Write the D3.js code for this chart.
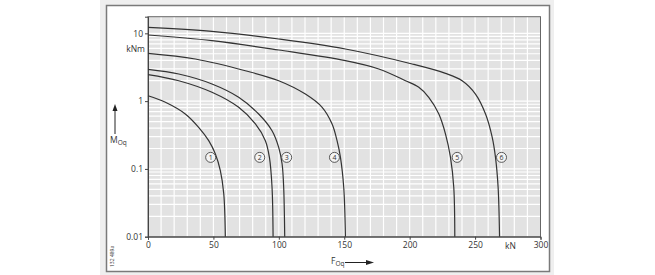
<!DOCTYPE html>
<html>
<head>
<meta charset="utf-8">
<script src="https://cdn.jsdelivr.net/npm/d3@7"></script>
<style>
  body { margin: 0; background: #fff; }
  svg { display: block; }
  text { font-family: "Open Sans", "DejaVu Sans", sans-serif; fill: #333; }
</style>
</head>
<body>
<svg id="chart" width="655" height="275"></svg>
<script>
// curves: [F in kN, M in kNm]
const curve1 = [[0, 1.2], [13.3, 0.96], [28.5, 0.645], [38.7, 0.41], [46.4, 0.261], [51.5, 0.166], [55.3, 0.094], [57.9, 0.043], [59.1, 0.01]];
const curve2 = [[0, 2.46], [23.5, 2.0], [48.9, 1.35], [69.3, 0.81], [82.1, 0.46], [89.7, 0.261], [92.8, 0.148], [94.8, 0.0535], [95.6, 0.01]];
const curve3 = [[0, 2.94], [23.5, 2.51], [48.9, 1.79], [69.3, 1.14], [84.6, 0.645], [94.8, 0.366], [99.9, 0.208], [102.5, 0.118], [103.7, 0.0535], [104.5, 0.01]];
const curve4 = [[0, 5.07], [36.2, 4.18], [74.4, 2.81], [99.9, 2.0], [120.3, 1.27], [133.1, 0.81], [140.7, 0.46], [144.5, 0.261], [147.1, 0.148], [149.6, 0.0535], [150.9, 0.01]];
const curve5 = [[0, 9.45], [48.9, 7.8], [99.9, 5.68], [150.9, 3.95], [176.4, 2.98], [196.8, 2.0], [207.0, 1.6], [214.6, 1.14], [222.3, 0.645], [227.4, 0.327], [231.2, 0.148], [233.7, 0.0535], [234.5, 0.01]];
const curve6 = [[0, 12.26], [48.9, 10.7], [99.9, 8.25], [150.9, 5.87], [201.9, 3.53], [227.4, 2.57], [240.1, 2.0], [250.3, 1.27], [258.0, 0.645], [263.1, 0.292], [265.6, 0.148], [267.6, 0.0535], [268.7, 0.01]];
const curves = [curve1, curve2, curve3, curve4, curve5, curve6];

const curveLabels = ["1", "2", "3", "4", "5", "6"];
const labelF = [47.9, 85.4, 106, 142.5, 236.3, 270.2];
const labelM = 0.148;

const xTicks = [0, 50, 100, 150, 200, 250, 300];
const yTicks = [0.01, 0.1, 1, 10];
const yTickLabels = ["0.01", "0.1", "1", "10"];

const svg = d3.select("#chart");

// panel frame
svg.append("rect").attr("x", 100).attr("y", 0).attr("width", 454).attr("height", 275).attr("fill", "#efefef");
svg.append("rect").attr("x", 106.5).attr("y", 5.5).attr("width", 443).attr("height", 266)
  .attr("fill", "#fff").attr("stroke", "#7a7a7a").attr("stroke-width", 1.5);

const pLeft = 148, pRight = 540.5, pTop = 16.7, pBottom = 236.7;

const x = d3.scaleLinear().domain([0, 300]).range([pLeft, pRight]);
const y = d3.scaleLog().domain([0.01, 17.6]).range([pBottom, pTop]);

svg.append("rect").attr("x", pLeft).attr("y", pTop).attr("width", pRight - pLeft).attr("height", pBottom - pTop)
  .attr("fill", "#e2e2e2");

// grid
const grid = svg.append("g").attr("stroke", "#fff").attr("stroke-width", 1.2);
grid.selectAll("line.v").data(d3.range(10, 300, 10)).join("line")
  .attr("x1", d => x(d)).attr("x2", d => x(d)).attr("y1", pTop).attr("y2", pBottom);
const minor = y.ticks().filter(d => d > 0.01 && d < 17.6);
grid.selectAll("line.h").data(minor).join("line")
  .attr("x1", pLeft).attr("x2", pRight).attr("y1", d => y(d)).attr("y2", d => y(d));

// frame
svg.append("rect").attr("x", pLeft).attr("y", pTop).attr("width", pRight - pLeft).attr("height", pBottom - pTop)
  .attr("fill", "none").attr("stroke", "#666").attr("stroke-width", 1);

// axes
const xAxis = svg.append("g").attr("transform", `translate(0,${pBottom})`)
  .call(d3.axisBottom(x).tickValues(xTicks).tickSize(3).tickPadding(2).tickFormat(d3.format("d")));
const yAxis = svg.append("g").attr("transform", `translate(${pLeft},0)`)
  .call(d3.axisLeft(y).tickValues(yTicks).tickSize(3).tickPadding(2).tickFormat((d, i) => yTickLabels[i]));
[xAxis, yAxis].forEach(a => {
  a.select(".domain").attr("stroke", "#444");
  a.selectAll(".tick line").attr("stroke", "#444");
  a.selectAll("text").attr("font-size", 8.5).attr("fill", "#333")
    .style("font-family", '"Open Sans", "DejaVu Sans", sans-serif');
});

// curves
const line = d3.line().x(d => x(d[0])).y(d => y(d[1])).curve(d3.curveCatmullRom.alpha(0.5));
svg.append("g").selectAll("path").data(curves).join("path")
  .attr("d", line).attr("fill", "none").attr("stroke", "#333").attr("stroke-width", 1.2);

// curve numbers
const lab = svg.append("g").selectAll("g").data(curveLabels).join("g")
  .attr("transform", (d, i) => `translate(${x(labelF[i])},${y(labelM)})`);
lab.append("circle").attr("r", 5).attr("fill", "#f4f4f4").attr("stroke", "#333").attr("stroke-width", 0.8);
lab.append("text").attr("text-anchor", "middle").attr("dy", "0.35em").attr("font-size", 7).text(d => d);

// unit labels
svg.append("text").attr("x", 145).attr("y", 52).attr("text-anchor", "end").attr("font-size", 8.5).text("kNm");
svg.append("text").attr("x", x(277)).attr("y", 248.5).attr("text-anchor", "middle").attr("font-size", 8.5).text("kN");

// axis titles with arrows
const mt = svg.append("text").attr("x", 110).attr("y", 143).attr("font-size", 8.5);
mt.append("tspan").text("M");
mt.append("tspan").attr("font-size", 6.5).attr("dy", 2).text("Oq");
svg.append("line").attr("x1", 115).attr("x2", 115).attr("y1", 134).attr("y2", 109).attr("stroke", "#222").attr("stroke-width", 1);
svg.append("path").attr("d", "M115,104 L112.5,111 L117.5,111 Z").attr("fill", "#222");

const ft = svg.append("text").attr("x", 331).attr("y", 264).attr("font-size", 8.5);
ft.append("tspan").text("F");
ft.append("tspan").attr("font-size", 6.5).attr("dy", 2).text("Oq");
svg.append("line").attr("x1", 345).attr("x2", 368).attr("y1", 262.5).attr("y2", 262.5).attr("stroke", "#222").attr("stroke-width", 1);
svg.append("path").attr("d", "M374,262.5 L366,260 L366,265 Z").attr("fill", "#222");

// drawing number
svg.append("text").attr("transform", "translate(114,267) rotate(-90)").attr("font-size", 5).attr("fill", "#555").text("132 489a");
</script>
</body>
</html>
